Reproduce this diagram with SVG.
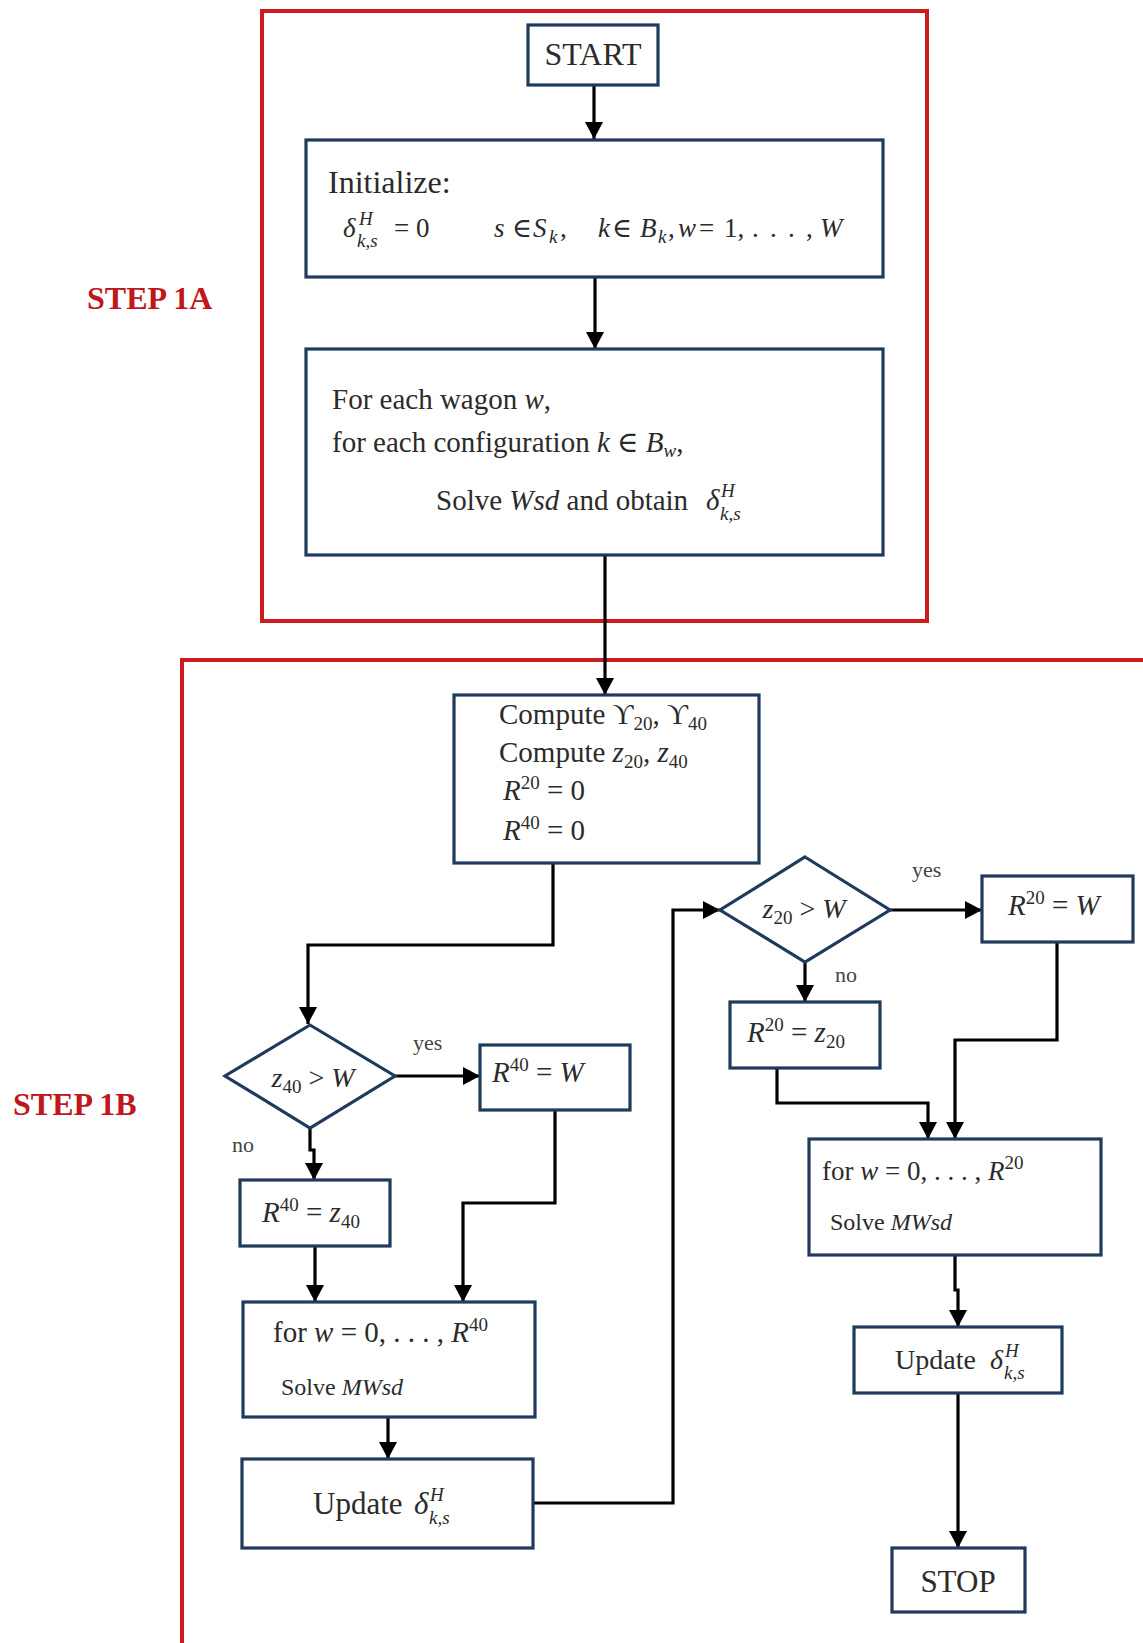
<svg xmlns="http://www.w3.org/2000/svg" width="1143" height="1643" viewBox="0 0 1143 1643">
<style>
.bg{fill:#ffffff}
.red{fill:none;stroke:#cc1a1f;stroke-width:4}
.node{fill:#ffffff;stroke:#1f3a5c;stroke-width:3.2}
.conn{fill:none;stroke:#000000;stroke-width:3.2}
.t{font-family:"Liberation Serif","DejaVu Serif",serif;fill:#2b2b2b;font-size:29px}
.step{font-family:"Liberation Serif","DejaVu Serif",serif;fill:#c0161c;font-size:32px;font-weight:bold}
.lbl{font-family:"Liberation Serif","DejaVu Serif",serif;fill:#444444;font-size:22px}
.i{font-style:italic}
.s{font-size:19px}
</style>
<defs>
<marker id="ah" markerWidth="18" markerHeight="18" refX="17" refY="9" orient="auto" markerUnits="userSpaceOnUse">
<path d="M0,0 L17,9 L0,18 z" fill="#000000"/>
</marker>
</defs>
<rect class="bg" x="0" y="0" width="1143" height="1643"/>

<g id="step1a">
<rect class="red" x="262" y="11" width="665" height="610"/>
<text class="step" x="87" y="309">STEP 1A</text>
</g>
<g id="step1b">
<path class="red" d="M182,1650 V660 H1150"/>
<text class="step" x="13" y="1115">STEP 1B</text>
</g>

<g id="connectors">
<path class="conn" d="M594,85 V139" marker-end="url(#ah)"/>
<path class="conn" d="M595,277 V349" marker-end="url(#ah)"/>
<path class="conn" d="M605,555 V695" marker-end="url(#ah)"/>
<path class="conn" d="M553,863 V945 H308 V1024" marker-end="url(#ah)"/>
<path class="conn" d="M395,1076 H480" marker-end="url(#ah)"/>
<path class="conn" d="M310,1128 V1150 H314 V1180" marker-end="url(#ah)"/>
<path class="conn" d="M555,1110 V1203 H463 V1302" marker-end="url(#ah)"/>
<path class="conn" d="M315,1246 V1302" marker-end="url(#ah)"/>
<path class="conn" d="M388,1417 V1459" marker-end="url(#ah)"/>
<path class="conn" d="M533,1503 H673 V910 H720" marker-end="url(#ah)"/>
<path class="conn" d="M890,910 H982" marker-end="url(#ah)"/>
<path class="conn" d="M805,962 V1002" marker-end="url(#ah)"/>
<path class="conn" d="M777,1068 V1103 H928 V1139" marker-end="url(#ah)"/>
<path class="conn" d="M1057,942 V1040 H955 V1139" marker-end="url(#ah)"/>
<path class="conn" d="M955,1255 V1290 H958 V1327" marker-end="url(#ah)"/>
<path class="conn" d="M958,1393 V1548" marker-end="url(#ah)"/>
<text class="lbl" x="413" y="1050">yes</text>
<text class="lbl" x="232" y="1152">no</text>
<text class="lbl" x="912" y="877">yes</text>
<text class="lbl" x="835" y="982">no</text>
</g>

<g id="start">
<rect class="node" x="528" y="25" width="130" height="60"/>
<text class="t" x="593" y="65" text-anchor="middle" style="font-size:32px">START</text>
</g>

<g id="initialize">
<rect class="node" x="306" y="140" width="577" height="137"/>
<text class="t" x="328" y="193" style="font-size:32px">Initialize:</text>
<text class="t" y="237" style="font-size:27px"><tspan x="343" class="i">δ</tspan><tspan x="359" y="225" class="s i">H</tspan><tspan x="357" y="247" class="s i">k,s</tspan><tspan x="394" y="237">= 0</tspan><tspan x="494" class="i">s</tspan><tspan x="512">∈</tspan><tspan x="533" class="i">S</tspan><tspan x="549" y="243" class="s i">k</tspan><tspan x="560" y="237">,</tspan><tspan x="598" class="i">k</tspan><tspan x="612">∈</tspan><tspan x="640" class="i">B</tspan><tspan x="658" y="243" class="s i">k</tspan><tspan x="668" y="237">,</tspan><tspan x="678" class="i">w</tspan><tspan x="699">=</tspan><tspan x="724">1,</tspan><tspan x="752">.</tspan><tspan x="770">.</tspan><tspan x="788">.</tspan><tspan x="806">,</tspan><tspan x="820" class="i">W</tspan></text>
</g>

<g id="foreach">
<rect class="node" x="306" y="349" width="577" height="206"/>
<text class="t" x="332" y="409">For each wagon <tspan class="i">w</tspan>,</text>
<text class="t" x="332" y="452">for each configuration <tspan class="i">k</tspan> ∈ <tspan class="i">B</tspan><tspan class="s i" dy="5">w</tspan><tspan dy="-5">,</tspan></text>
<text class="t" y="510"><tspan x="436">Solve </tspan><tspan class="i">Wsd</tspan><tspan> and obtain </tspan><tspan x="706" class="i">δ</tspan><tspan x="721" y="497" class="s i">H</tspan><tspan x="720" y="520" class="s i">k,s</tspan></text>
</g>

<g id="compute">
<rect class="node" x="454" y="695" width="305" height="168"/>
<text class="t" x="499" y="724">Compute ϒ<tspan class="s" dy="6">20</tspan><tspan dy="-6">, ϒ</tspan><tspan class="s" dy="6">40</tspan></text>
<text class="t" x="499" y="762">Compute <tspan class="i">z</tspan><tspan class="s" dy="6">20</tspan><tspan dy="-6">, </tspan><tspan class="i">z</tspan><tspan class="s" dy="6">40</tspan></text>
<text class="t" x="503" y="800"><tspan class="i">R</tspan><tspan class="s" dy="-11">20</tspan><tspan dy="11"> = 0</tspan></text>
<text class="t" x="503" y="840"><tspan class="i">R</tspan><tspan class="s" dy="-11">40</tspan><tspan dy="11"> = 0</tspan></text>
</g>

<g id="dec40">
<polygon class="node" points="310,1025 395,1076 310,1128 225,1076"/>
<text class="t" x="313" y="1087" text-anchor="middle" style="font-size:28px"><tspan class="i">z</tspan><tspan class="s" dy="6">40</tspan><tspan dy="-6"> &gt; </tspan><tspan class="i">W</tspan></text>
</g>

<g id="r40w">
<rect class="node" x="480" y="1045" width="150" height="65"/>
<text class="t" x="492" y="1082"><tspan class="i">R</tspan><tspan class="s" dy="-11">40</tspan><tspan dy="11"> = </tspan><tspan class="i">W</tspan></text>
</g>

<g id="r40z">
<rect class="node" x="240" y="1180" width="150" height="66"/>
<text class="t" x="262" y="1222"><tspan class="i">R</tspan><tspan class="s" dy="-11">40</tspan><tspan dy="11"> = </tspan><tspan class="i">z</tspan><tspan class="s" dy="6">40</tspan></text>
</g>

<g id="for40">
<rect class="node" x="243" y="1302" width="292" height="115"/>
<text class="t" x="273" y="1342">for <tspan class="i">w</tspan> = 0, . . . , <tspan class="i">R</tspan><tspan class="s" dy="-11">40</tspan></text>
<text class="t" x="281" y="1395" style="font-size:24px">Solve <tspan class="i">MWsd</tspan></text>
</g>

<g id="update40">
<rect class="node" x="242" y="1459" width="291" height="89"/>
<text class="t" y="1514" style="font-size:31px"><tspan x="313">Update</tspan><tspan x="414" class="i">δ</tspan><tspan x="430" y="1501" class="s i">H</tspan><tspan x="429" y="1524" class="s i">k,s</tspan></text>
</g>

<g id="dec20">
<polygon class="node" points="805,857 890,910 805,962 720,910"/>
<text class="t" x="804" y="918" text-anchor="middle" style="font-size:28px"><tspan class="i">z</tspan><tspan class="s" dy="6">20</tspan><tspan dy="-6"> &gt; </tspan><tspan class="i">W</tspan></text>
</g>

<g id="r20w">
<rect class="node" x="982" y="876" width="151" height="66"/>
<text class="t" x="1008" y="915"><tspan class="i">R</tspan><tspan class="s" dy="-11">20</tspan><tspan dy="11"> = </tspan><tspan class="i">W</tspan></text>
</g>

<g id="r20z">
<rect class="node" x="730" y="1002" width="150" height="66"/>
<text class="t" x="747" y="1042"><tspan class="i">R</tspan><tspan class="s" dy="-11">20</tspan><tspan dy="11"> = </tspan><tspan class="i">z</tspan><tspan class="s" dy="6">20</tspan></text>
</g>

<g id="for20">
<rect class="node" x="809" y="1139" width="292" height="116"/>
<text class="t" x="822" y="1180" style="font-size:27px">for <tspan class="i">w</tspan> = 0, . . . , <tspan class="i">R</tspan><tspan class="s" dy="-11">20</tspan></text>
<text class="t" x="830" y="1230" style="font-size:24px">Solve <tspan class="i">MWsd</tspan></text>
</g>

<g id="update20">
<rect class="node" x="854" y="1327" width="208" height="66"/>
<text class="t" y="1369" style="font-size:28px"><tspan x="895">Update</tspan><tspan x="990" class="i">δ</tspan><tspan x="1005" y="1357" class="s i">H</tspan><tspan x="1004" y="1379" class="s i">k,s</tspan></text>
</g>

<g id="stop">
<rect class="node" x="892" y="1548" width="133" height="64"/>
<text class="t" x="958" y="1592" text-anchor="middle" style="font-size:31px">STOP</text>
</g>
</svg>
